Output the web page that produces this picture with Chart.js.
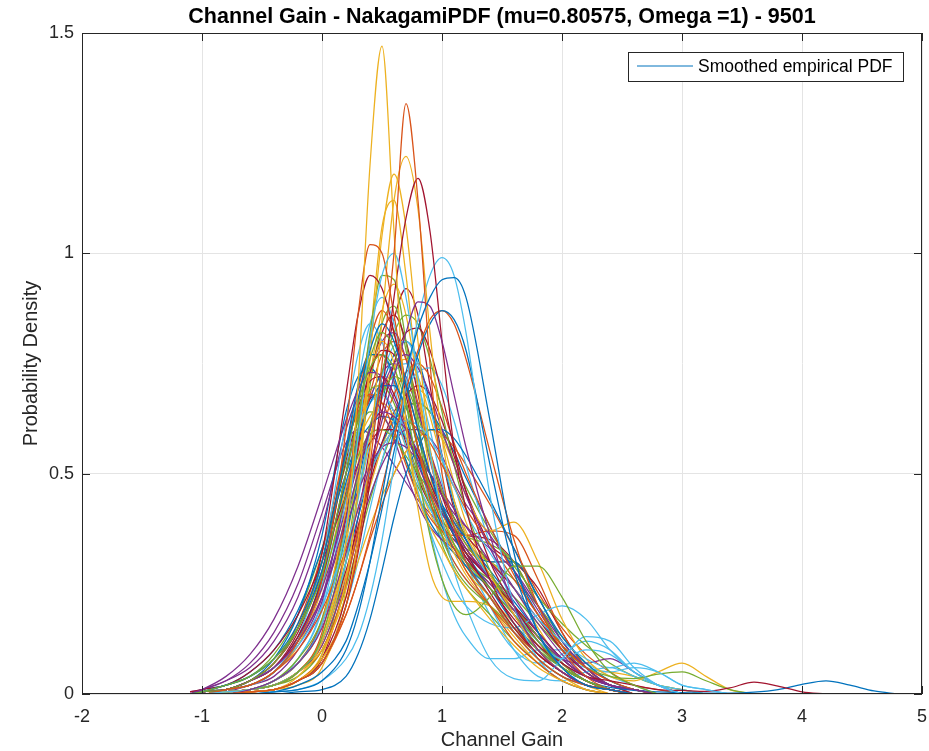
<!DOCTYPE html>
<html>
<head>
<meta charset="utf-8">
<title>Channel Gain - NakagamiPDF</title>
<script src="https://cdn.jsdelivr.net/npm/chart.js@4.4.1/dist/chart.umd.min.js"></script>
<style>
  html, body { margin: 0; padding: 0; background: #fff; }
  #wrap { width: 929px; height: 751px; }
</style>
</head>
<body>
<div id="wrap"><canvas id="gainChart" width="929" height="751"></canvas></div>
<script>
// text
const chartTitle = 'Channel Gain - NakagamiPDF (mu=0.80575, Omega =1) - 9501';
const xTitle = 'Channel Gain';
const yTitle = 'Probability Density';
const legendLabel = 'Smoothed empirical PDF';

const gainGrid = [-1.1, -1.0, -0.8, -0.6, -0.4, -0.2, 0, 0.2, 0.3, 0.4, 0.5, 0.6, 0.7, 0.8, 0.9, 1.0, 1.1, 1.2,
                  1.4, 1.6, 1.8, 2.0, 2.2, 2.4, 2.6, 2.8, 3.0, 3.2, 3.4, 3.6, 3.8, 4.0, 4.2, 4.4, 4.6, 4.8];

// density values, one array per run (shorter arrays simply end earlier)
const pdf01 = [0,0,0,0,0.005,0.01,0.03,0.1,0.18,0.3,0.45,0.6,0.73,0.83,0.9,0.94,0.945,0.9,0.62,0.32,0.14,0.06,0.02,0.01,0];
const pdf02 = [0,0,0,0.005,0.01,0.03,0.07,0.2,0.33,0.52,0.75,1.0,1.34,1.12,0.75,0.5,0.38,0.3,0.22,0.14,0.08,0.04,0.02,0.01,0];
const pdf03 = [0,0,0,0.005,0.01,0.04,0.12,0.35,0.7,1.2,1.47,1.05,0.62,0.45,0.38,0.33,0.28,0.24,0.17,0.11,0.06,0.03,0.01,0];
const pdf04 = [0,0,0,0.01,0.03,0.07,0.15,0.32,0.42,0.52,0.62,0.72,0.82,0.89,0.88,0.8,0.68,0.56,0.36,0.2,0.1,0.05,0.02,0.01,0];
const pdf05 = [0,0.005,0.02,0.04,0.08,0.15,0.27,0.5,0.63,0.76,0.82,0.78,0.66,0.5,0.36,0.26,0.2,0.18,0.22,0.29,0.29,0.22,0.12,0.05,0.02,0];
const pdf06 = [0,0,0.005,0.01,0.03,0.07,0.16,0.38,0.58,0.8,0.95,1.0,0.9,0.72,0.55,0.4,0.28,0.2,0.08,0.035,0.03,0.08,0.13,0.12,0.06,0.02,0];
const pdf07 = [0,0,0,0.005,0.01,0.03,0.07,0.2,0.32,0.48,0.68,0.9,1.08,1.17,1.05,0.8,0.56,0.42,0.26,0.16,0.09,0.05,0.02,0.01,0];

const pdf08 = [0,0.005,0.02,0.04,0.08,0.16,0.3,0.55,0.67,0.78,0.84,0.8,0.7,0.6,0.5,0.42,0.36,0.3,0.22,0.14,0.08,0.04,0.02,0.01,0];
const pdf09 = [0,0,0.01,0.02,0.05,0.12,0.26,0.6,0.86,1.02,1.0,0.86,0.7,0.56,0.46,0.39,0.33,0.28,0.2,0.12,0.07,0.03,0.01,0];
const pdf10 = [0,0,0,0.005,0.01,0.03,0.08,0.2,0.35,0.55,0.85,1.12,1.22,1.1,0.82,0.58,0.44,0.36,0.27,0.18,0.1,0.05,0.02,0];
const pdf11 = [0,0.01,0.04,0.09,0.17,0.29,0.45,0.62,0.69,0.73,0.72,0.67,0.6,0.52,0.46,0.41,0.37,0.33,0.26,0.18,0.1,0.05,0.02,0.01,0];
const pdf12 = [0,0.005,0.01,0.03,0.07,0.15,0.3,0.54,0.66,0.74,0.77,0.74,0.66,0.56,0.47,0.4,0.34,0.3,0.24,0.18,0.12,0.06,0.03,0.01,0];
const pdf13 = [0,0,0,0,0.005,0.01,0.03,0.08,0.13,0.22,0.35,0.52,0.7,0.85,0.95,0.99,0.95,0.82,0.45,0.2,0.08,0.03,0.01,0];
const pdf14 = [0,0.005,0.01,0.03,0.07,0.15,0.32,0.68,0.86,0.95,0.92,0.82,0.68,0.56,0.48,0.42,0.37,0.32,0.23,0.15,0.09,0.05,0.02,0.01,0];

const pdf15 = [0,0,0,0,0.005,0.02,0.05,0.12,0.2,0.3,0.42,0.55,0.67,0.77,0.84,0.87,0.85,0.78,0.52,0.28,0.14,0.06,0.02,0.01,0];
const pdf16 = [0,0,0,0.005,0.01,0.03,0.08,0.18,0.26,0.36,0.47,0.58,0.69,0.78,0.85,0.87,0.84,0.76,0.55,0.35,0.2,0.1,0.04,0.01,0];
const pdf17 = [0,0,0,0.005,0.01,0.03,0.09,0.26,0.46,0.76,1.04,1.18,1.06,0.8,0.56,0.42,0.34,0.28,0.22,0.15,0.09,0.05,0.02,0.01,0];
const pdf18 = [0,0.005,0.01,0.03,0.06,0.12,0.22,0.4,0.5,0.6,0.69,0.75,0.77,0.74,0.68,0.6,0.52,0.45,0.33,0.24,0.16,0.09,0.04,0.02,0.01,0];
const pdf19 = [0,0,0,0.01,0.02,0.05,0.13,0.38,0.6,0.82,0.95,0.94,0.8,0.62,0.46,0.36,0.29,0.25,0.2,0.15,0.1,0.06,0.03,0.01,0];
const pdf20 = [0,0.005,0.01,0.03,0.06,0.11,0.2,0.34,0.42,0.5,0.56,0.6,0.62,0.61,0.58,0.53,0.47,0.41,0.32,0.24,0.17,0.12,0.08,0.06,0.07,0.05,0.02,0.01,0];
const pdf21 = [0,0.005,0.01,0.03,0.06,0.13,0.26,0.5,0.63,0.73,0.78,0.77,0.7,0.6,0.5,0.42,0.36,0.31,0.24,0.17,0.11,0.07,0.04,0.03,0.02,0.01,0.008,0.006,0.014,0.027,0.018,0.005,0];

const pdf22 = [0,0.005,0.02,0.04,0.08,0.15,0.28,0.48,0.58,0.66,0.7,0.7,0.65,0.58,0.5,0.43,0.37,0.32,0.24,0.16,0.1,0.06,0.03,0.015,0.008,0.005,0.003,0.002,0.002,0.004,0.01,0.022,0.03,0.02,0.007,0];
const pdf23 = [0,0.005,0.01,0.02,0.05,0.1,0.19,0.33,0.42,0.5,0.56,0.6,0.62,0.6,0.57,0.52,0.47,0.42,0.34,0.26,0.18,0.11,0.06,0.03,0.01,0];
const pdf24 = [0,0,0.005,0.01,0.03,0.07,0.16,0.42,0.58,0.72,0.8,0.75,0.6,0.42,0.28,0.22,0.21,0.21,0.2,0.14,0.08,0.04,0.01,0];
const pdf25 = [0,0.005,0.01,0.03,0.06,0.13,0.24,0.42,0.52,0.6,0.64,0.63,0.6,0.55,0.5,0.45,0.41,0.38,0.33,0.28,0.2,0.12,0.06,0.02,0.01,0];
const pdf26 = [0,0,0.005,0.01,0.03,0.08,0.17,0.38,0.5,0.61,0.68,0.72,0.7,0.63,0.54,0.46,0.4,0.36,0.34,0.3,0.2,0.11,0.06,0.04,0.035,0.045,0.05,0.03,0.01,0];
const pdf27 = [0,0,0.005,0.01,0.02,0.05,0.12,0.3,0.45,0.6,0.72,0.79,0.8,0.75,0.65,0.54,0.44,0.36,0.26,0.18,0.12,0.08,0.1,0.09,0.05,0.02,0];
const pdf28 = [0,0,0,0.005,0.01,0.03,0.08,0.22,0.35,0.5,0.64,0.75,0.82,0.83,0.78,0.68,0.56,0.46,0.3,0.2,0.12,0.06,0.03,0.01,0];

const pdf29 = [0,0,0,0,0,0.005,0.01,0.04,0.09,0.17,0.28,0.4,0.5,0.56,0.6,0.6,0.58,0.54,0.44,0.33,0.22,0.13,0.07,0.03,0.01,0];
const pdf30 = [0,0,0.005,0.01,0.02,0.05,0.14,0.42,0.65,0.8,0.87,0.82,0.7,0.56,0.44,0.36,0.3,0.26,0.2,0.14,0.09,0.05,0.02,0.01,0];
const pdf31 = [0,0,0.005,0.01,0.02,0.05,0.1,0.22,0.3,0.38,0.45,0.5,0.55,0.58,0.6,0.58,0.52,0.45,0.37,0.39,0.3,0.17,0.08,0.04,0.03,0.05,0.07,0.04,0.01,0];
const pdf32 = [0,0.005,0.01,0.03,0.06,0.12,0.22,0.38,0.46,0.52,0.56,0.57,0.56,0.53,0.5,0.46,0.42,0.38,0.3,0.22,0.14,0.08,0.04,0.02,0.01,0];
const pdf33 = [0,0,0,0.01,0.02,0.05,0.12,0.3,0.45,0.6,0.73,0.82,0.86,0.84,0.76,0.64,0.52,0.42,0.28,0.18,0.11,0.06,0.03,0.01,0];
const pdf34 = [0,0.005,0.01,0.02,0.05,0.12,0.25,0.5,0.6,0.66,0.68,0.64,0.56,0.46,0.37,0.3,0.24,0.2,0.16,0.15,0.18,0.2,0.17,0.1,0.05,0.02,0];
const pdf35 = [0,0.005,0.01,0.03,0.07,0.15,0.3,0.55,0.65,0.71,0.72,0.68,0.61,0.54,0.47,0.41,0.36,0.32,0.26,0.2,0.14,0.08,0.04,0.02,0];

const pdf36 = [0,0.005,0.01,0.02,0.05,0.12,0.27,0.56,0.7,0.77,0.77,0.72,0.63,0.53,0.45,0.38,0.33,0.29,0.22,0.15,0.09,0.05,0.02,0.01,0];
const pdf37 = [0,0,0.005,0.01,0.02,0.05,0.1,0.25,0.37,0.5,0.6,0.68,0.73,0.75,0.72,0.65,0.57,0.5,0.38,0.27,0.18,0.11,0.06,0.03,0.01,0];
const pdf38 = [0,0,0,0.005,0.01,0.02,0.06,0.24,0.48,0.8,1.06,1.12,0.95,0.7,0.5,0.38,0.32,0.27,0.2,0.13,0.07,0.03,0.01,0];
const pdf39 = [0,0,0.005,0.01,0.02,0.05,0.11,0.26,0.36,0.45,0.52,0.57,0.6,0.6,0.58,0.54,0.48,0.43,0.36,0.28,0.19,0.11,0.05,0.02,0.01,0];
const pdf40 = [0,0.005,0.01,0.03,0.06,0.13,0.25,0.45,0.54,0.59,0.6,0.58,0.54,0.5,0.46,0.42,0.38,0.34,0.27,0.2,0.13,0.07,0.03,0.01,0];
const pdf41 = [0,0.005,0.01,0.02,0.05,0.13,0.3,0.62,0.77,0.84,0.8,0.7,0.58,0.48,0.42,0.38,0.34,0.3,0.2,0.1,0.04,0.03,0.05,0.06,0.04,0.02,0.01,0];
const pdf42 = [0.005,0.01,0.02,0.05,0.1,0.18,0.3,0.45,0.52,0.57,0.6,0.6,0.58,0.54,0.5,0.45,0.4,0.36,0.3,0.24,0.17,0.1,0.05,0.02,0.01,0];

const pdf43 = [0,0,0.005,0.01,0.03,0.07,0.16,0.36,0.48,0.6,0.7,0.77,0.8,0.76,0.66,0.54,0.43,0.35,0.3,0.3,0.22,0.12,0.06,0.02,0.01,0];
const pdf44 = [0,0.005,0.01,0.03,0.07,0.16,0.32,0.56,0.64,0.68,0.66,0.6,0.52,0.45,0.4,0.37,0.36,0.36,0.37,0.36,0.26,0.14,0.06,0.02,0.01,0];
const pdf45 = [0,0,0.005,0.01,0.02,0.05,0.13,0.34,0.52,0.72,0.87,0.93,0.86,0.7,0.54,0.42,0.34,0.29,0.22,0.16,0.1,0.05,0.02,0.01,0];
const pdf46 = [0,0.01,0.03,0.06,0.12,0.22,0.38,0.6,0.67,0.68,0.64,0.58,0.5,0.43,0.38,0.35,0.33,0.31,0.27,0.2,0.13,0.08,0.07,0.08,0.05,0.02,0];
const pdf47 = [0,0.005,0.01,0.02,0.05,0.12,0.26,0.5,0.62,0.69,0.7,0.66,0.58,0.5,0.43,0.37,0.33,0.3,0.26,0.22,0.16,0.1,0.05,0.02,0.01,0];
const pdf48 = [0,0,0,0.005,0.01,0.03,0.07,0.2,0.3,0.42,0.53,0.62,0.69,0.73,0.74,0.7,0.62,0.52,0.34,0.2,0.12,0.08,0.06,0.05,0.06,0.05,0.02,0.01,0];
const pdf49 = [0,0,0.005,0.01,0.03,0.07,0.16,0.4,0.56,0.72,0.82,0.86,0.8,0.68,0.55,0.45,0.38,0.33,0.26,0.2,0.13,0.07,0.03,0.01,0];

const pdf50 = [0,0.01,0.02,0.05,0.1,0.19,0.33,0.5,0.57,0.61,0.63,0.62,0.58,0.53,0.48,0.43,0.39,0.35,0.28,0.21,0.14,0.08,0.04,0.02,0.01,0];
const pdf51 = [0,0,0.005,0.01,0.03,0.07,0.17,0.4,0.55,0.68,0.77,0.8,0.76,0.66,0.55,0.46,0.39,0.34,0.27,0.2,0.14,0.08,0.04,0.02,0];
const pdf52 = [0,0.005,0.01,0.02,0.05,0.11,0.24,0.47,0.57,0.63,0.66,0.63,0.56,0.48,0.41,0.36,0.33,0.32,0.3,0.24,0.15,0.07,0.03,0.01,0];
const pdf53 = [0,0,0.005,0.02,0.04,0.1,0.21,0.46,0.6,0.73,0.8,0.82,0.76,0.65,0.53,0.43,0.36,0.31,0.25,0.19,0.13,0.07,0.03,0.01,0];
const pdf54 = [0,0,0.005,0.01,0.02,0.04,0.1,0.24,0.34,0.44,0.53,0.6,0.65,0.66,0.64,0.59,0.53,0.47,0.37,0.29,0.22,0.16,0.11,0.07,0.04,0.02,0.01,0];
const pdf55 = [0,0,0.005,0.01,0.03,0.08,0.2,0.5,0.7,0.84,0.9,0.84,0.7,0.55,0.43,0.35,0.3,0.26,0.2,0.14,0.09,0.05,0.02,0.01,0];
const pdf56 = [0,0,0.005,0.01,0.02,0.05,0.12,0.28,0.38,0.48,0.57,0.64,0.68,0.7,0.68,0.62,0.54,0.46,0.34,0.3,0.24,0.14,0.06,0.02,0.01,0];

const pdf57 = [0,0.005,0.01,0.03,0.08,0.18,0.36,0.64,0.72,0.74,0.7,0.62,0.53,0.45,0.39,0.35,0.32,0.29,0.24,0.18,0.12,0.07,0.03,0.01,0];
const pdf58 = [0,0,0,0.005,0.01,0.03,0.07,0.18,0.26,0.35,0.43,0.5,0.55,0.58,0.6,0.59,0.56,0.52,0.43,0.33,0.23,0.15,0.09,0.05,0.02,0.01,0];
const pdf59 = [0,0,0.005,0.01,0.02,0.05,0.12,0.32,0.45,0.58,0.68,0.74,0.76,0.72,0.63,0.53,0.44,0.37,0.27,0.19,0.12,0.06,0.03,0.01,0];
const pdf60 = [0.005,0.01,0.03,0.07,0.14,0.25,0.41,0.57,0.6,0.59,0.56,0.52,0.48,0.44,0.41,0.38,0.35,0.32,0.26,0.19,0.13,0.07,0.04,0.02,0.01,0];
const pdf61 = [0,0,0,0.005,0.01,0.03,0.09,0.3,0.5,0.7,0.84,0.88,0.78,0.6,0.44,0.34,0.28,0.24,0.18,0.12,0.07,0.03,0.01,0];
const pdf62 = [0,0,0.005,0.01,0.02,0.05,0.12,0.3,0.44,0.57,0.67,0.73,0.75,0.7,0.6,0.48,0.38,0.3,0.18,0.1,0.07,0.09,0.12,0.1,0.05,0.02,0];
const pdf63 = [0,0.005,0.01,0.03,0.06,0.14,0.28,0.53,0.62,0.67,0.68,0.64,0.57,0.49,0.43,0.39,0.37,0.36,0.35,0.3,0.2,0.11,0.05,0.02,0.01,0];

const pdf64 = [0,0,0.005,0.01,0.02,0.05,0.12,0.3,0.4,0.5,0.57,0.62,0.65,0.66,0.64,0.6,0.55,0.49,0.38,0.28,0.18,0.1,0.05,0.02,0.01,0];
const pdf65 = [0,0.005,0.01,0.02,0.05,0.12,0.26,0.55,0.69,0.77,0.77,0.71,0.61,0.51,0.43,0.37,0.33,0.3,0.25,0.19,0.13,0.07,0.03,0.01,0];
const pdf66 = [0,0,0.005,0.01,0.02,0.05,0.11,0.27,0.37,0.47,0.56,0.63,0.68,0.69,0.66,0.58,0.48,0.39,0.3,0.3,0.22,0.12,0.06,0.05,0.04,0.02,0.01,0];
const pdf67 = [0,0.005,0.01,0.02,0.05,0.11,0.22,0.45,0.57,0.67,0.73,0.75,0.72,0.64,0.55,0.47,0.4,0.35,0.27,0.2,0.13,0.07,0.03,0.01,0];
const pdf68 = [0,0.005,0.02,0.04,0.09,0.18,0.33,0.52,0.6,0.64,0.63,0.59,0.53,0.47,0.42,0.38,0.35,0.33,0.3,0.26,0.2,0.13,0.07,0.03,0.01,0];
const pdf69 = [0,0,0.005,0.01,0.03,0.08,0.19,0.44,0.58,0.67,0.72,0.71,0.63,0.5,0.37,0.26,0.18,0.13,0.08,0.08,0.1,0.1,0.07,0.04,0.02,0];
const pdf70 = [0,0,0,0.005,0.01,0.03,0.08,0.26,0.4,0.56,0.72,0.85,0.92,0.86,0.7,0.54,0.42,0.35,0.26,0.18,0.11,0.06,0.03,0.01,0];

const pdfSeries = [
  pdf01, pdf02, pdf03, pdf04, pdf05, pdf06, pdf07,
  pdf08, pdf09, pdf10, pdf11, pdf12, pdf13, pdf14,
  pdf15, pdf16, pdf17, pdf18, pdf19, pdf20, pdf21,
  pdf22, pdf23, pdf24, pdf25, pdf26, pdf27, pdf28,
  pdf29, pdf30, pdf31, pdf32, pdf33, pdf34, pdf35,
  pdf36, pdf37, pdf38, pdf39, pdf40, pdf41, pdf42,
  pdf43, pdf44, pdf45, pdf46, pdf47, pdf48, pdf49,
  pdf50, pdf51, pdf52, pdf53, pdf54, pdf55, pdf56,
  pdf57, pdf58, pdf59, pdf60, pdf61, pdf62, pdf63,
  pdf64, pdf65, pdf66, pdf67, pdf68, pdf69, pdf70
];

// matlab default line colour order
const palette = ['#0072BD', '#D95319', '#EDB120', '#7E2F8E', '#77AC30', '#4DBEEE', '#A2142F'];
const FONT = "'Liberation Sans', Arial, Helvetica, sans-serif";
const axisColor = '#262626';

const datasets = pdfSeries.map((ys, i) => ({
    label: legendLabel,
    data: ys.map((y, k) => ({x: gainGrid[k], y: y})),
    borderColor: palette[i % palette.length],
    borderWidth: 1.25,
    pointRadius: 0,
    fill: false,
    cubicInterpolationMode: 'monotone'
}));

// title, axis labels, boxed frame with inward ticks, and legend box like the matlab figure
const matlabFrame = {
    id: 'matlabFrame',
    afterDraw(chart) {
        const {ctx, chartArea: a, scales} = chart;
        ctx.save();

        ctx.strokeStyle = axisColor;
        ctx.lineWidth = 1;
        ctx.strokeRect(a.left + 0.5, a.top + 0.5, a.right - a.left - 1, a.bottom - a.top - 1);

        ctx.beginPath();
        scales.x.ticks.forEach(t => {
            const px = Math.round(scales.x.getPixelForValue(t.value)) + 0.5;
            ctx.moveTo(px, a.bottom); ctx.lineTo(px, a.bottom - 8);
            ctx.moveTo(px, a.top); ctx.lineTo(px, a.top + 8);
        });
        scales.y.ticks.forEach(t => {
            const py = Math.round(scales.y.getPixelForValue(t.value)) + 0.5;
            ctx.moveTo(a.left, py); ctx.lineTo(a.left + 8, py);
            ctx.moveTo(a.right, py); ctx.lineTo(a.right - 8, py);
        });
        ctx.stroke();

        const cx = (a.left + a.right) / 2;
        const cy = (a.top + a.bottom) / 2;

        ctx.fillStyle = '#000';
        ctx.textAlign = 'center';
        ctx.textBaseline = 'middle';
        ctx.font = 'bold 21.5px ' + FONT;
        ctx.fillText(chartTitle, cx, 17);

        ctx.fillStyle = axisColor;
        ctx.font = '20px ' + FONT;
        ctx.fillText(xTitle, cx, 740);

        ctx.save();
        ctx.translate(31, cy);
        ctx.rotate(-Math.PI / 2);
        ctx.fillText(yTitle, 0, 0);
        ctx.restore();

        // legend
        const boxW = 275, boxH = 29;
        const bx = a.right - 19 - boxW;
        const by = a.top + 19;
        ctx.fillStyle = '#fff';
        ctx.fillRect(bx, by, boxW, boxH);
        ctx.strokeStyle = axisColor;
        ctx.strokeRect(bx + 0.5, by + 0.5, boxW, boxH);

        ctx.strokeStyle = palette[0];
        ctx.beginPath();
        ctx.moveTo(bx + 9, by + 14);
        ctx.lineTo(bx + 65, by + 14);
        ctx.stroke();

        ctx.fillStyle = '#000';
        ctx.textAlign = 'left';
        ctx.font = '17.5px ' + FONT;
        ctx.fillText(legendLabel, bx + 70, by + 15);

        ctx.restore();
    }
};

const tickFont = {family: FONT, size: 18};

new Chart(document.getElementById('gainChart'), {
    type: 'line',
    data: {datasets: datasets},
    options: {
        responsive: false,
        devicePixelRatio: 1,
        animation: false,
        layout: {padding: {top: 33, right: 7, left: 0, bottom: 0}},
        plugins: {
            legend: {display: false},
            title: {display: false},
            tooltip: {enabled: false}
        },
        scales: {
            x: {
                type: 'linear',
                min: -2,
                max: 5,
                afterFit: s => { s.height = 57; s.paddingLeft = 0; s.paddingRight = 0; },
                ticks: {stepSize: 1, color: axisColor, font: tickFont, padding: 12, maxRotation: 0,
                        callback: v => String(v)},
                grid: {color: '#e4e4e4', drawTicks: false},
                border: {display: false}
            },
            y: {
                type: 'linear',
                min: 0,
                max: 1.5,
                afterFit: s => { s.width = 82; },
                ticks: {stepSize: 0.5, color: axisColor, font: tickFont, padding: 8,
                        callback: v => String(v)},
                grid: {color: '#e4e4e4', drawTicks: false},
                border: {display: false}
            }
        }
    },
    plugins: [matlabFrame]
});
</script>
</body>
</html>
